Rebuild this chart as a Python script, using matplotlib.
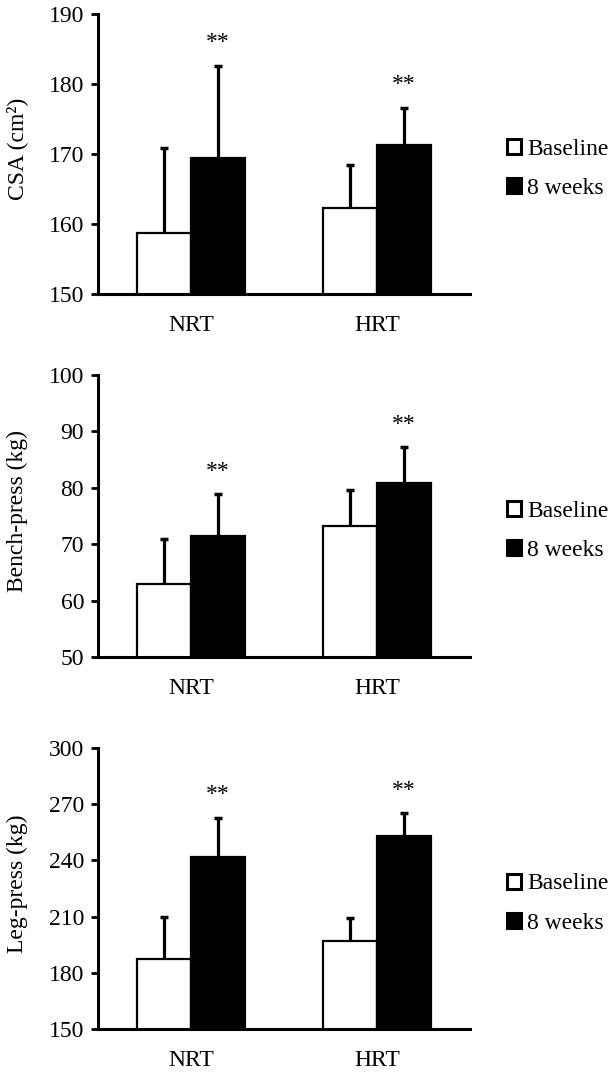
import matplotlib
matplotlib.use("Agg")
import matplotlib.pyplot as plt
from matplotlib.patches import Patch
import numpy as np

plt.rcParams['font.family'] = ['Liberation Serif', 'DejaVu Serif']

groups = ["NRT", "HRT"]
series_labels = ["Baseline", "8 weeks"]

csa_baseline = [158.7, 162.3]
csa_baseline_sd = [12.1, 6.2]
csa_week8 = [169.5, 171.3]
csa_week8_sd = [13.1, 5.3]

bench_baseline = [62.9, 73.2]
bench_baseline_sd = [8.0, 6.4]
bench_week8 = [71.5, 80.8]
bench_week8_sd = [7.4, 6.4]

leg_baseline = [187.4, 197.2]
leg_baseline_sd = [22.6, 12.3]
leg_week8 = [241.9, 252.8]
leg_week8_sd = [20.9, 12.5]

panels = [
    dict(ylabel="CSA (cm²)", ylim=(150, 190), yticks=[150, 160, 170, 180, 190],
         base=csa_baseline, base_sd=csa_baseline_sd, wk=csa_week8, wk_sd=csa_week8_sd),
    dict(ylabel="Bench-press (kg)", ylim=(50, 100), yticks=[50, 60, 70, 80, 90, 100],
         base=bench_baseline, base_sd=bench_baseline_sd, wk=bench_week8, wk_sd=bench_week8_sd),
    dict(ylabel="Leg-press (kg)", ylim=(150, 300), yticks=[150, 180, 210, 240, 270, 300],
         base=leg_baseline, base_sd=leg_baseline_sd, wk=leg_week8, wk_sd=leg_week8_sd),
]

W, H = 611, 1072
fig = plt.figure(figsize=(W / 100, H / 100), dpi=100)

# axes boxes in pixels: (left, top, right, bottom)
boxes = [(98, 14, 470, 294), (98, 375, 470, 657), (98, 748, 470, 1029)]

x = np.arange(len(groups))
bw = 0.29
fs = 17


def draw_err(ax, xs, means, sds):
    tops = np.array(means) + np.array(sds)
    ax.vlines(xs, means, tops, colors="black", linewidth=2.3, zorder=3)
    ax.plot(xs, tops, linestyle="none", marker="_", markersize=6,
            markeredgewidth=2.5, color="black", zorder=3)
    return tops


for p, (l, t, r, b) in zip(panels, boxes):
    ax = fig.add_axes([l / W, 1 - b / H, (r - l) / W, (b - t) / H])
    xb = x - bw / 2
    xw = x + bw / 2
    ax.bar(xb, p["base"], bw, color="white", edgecolor="black", linewidth=1.6, zorder=2)
    ax.bar(xw, p["wk"], bw, color="black", edgecolor="black", linewidth=1.6, zorder=2)
    draw_err(ax, xb, p["base"], p["base_sd"])
    tops = draw_err(ax, xw, p["wk"], p["wk_sd"])
    for xi, ti in zip(xw, tops):
        ax.annotate("**", (xi, ti), xytext=(0, 9), textcoords="offset points",
                    ha="center", va="bottom", fontsize=fs)
    ax.set_xlim(-0.5, 1.5)
    ax.set_ylim(*p["ylim"])
    ax.set_yticks(p["yticks"])
    ax.set_yticklabels([str(v) for v in p["yticks"]], fontsize=fs)
    ax.set_xticks(x)
    ax.set_xticklabels(groups, fontsize=fs)
    ax.tick_params(axis="x", length=0, pad=15)
    ax.tick_params(axis="y", length=5, width=2, pad=5, direction="out")
    for s in ["top", "right"]:
        ax.spines[s].set_visible(False)
    for s in ["left", "bottom"]:
        ax.spines[s].set_linewidth(2.2)
    fig.text(17 / W, 1 - ((t + b) / 2 - 5) / H, p["ylabel"], rotation=90,
             ha="center", va="center", fontsize=fs)

    handles = [Patch(facecolor="white", edgecolor="black", linewidth=2.2),
               Patch(facecolor="black", edgecolor="black", linewidth=2.2)]
    mid = (t + b) / 2
    ax.legend(handles, series_labels, loc="center left",
              bbox_to_anchor=((507 - l) / (r - l), (b - (mid + 15)) / (b - t)),
              frameon=False, fontsize=fs, handlelength=0.6, handleheight=0.6,
              handletextpad=0.25, labelspacing=0.77, borderaxespad=0, borderpad=0)

fig.savefig("out.png", dpi=100)
